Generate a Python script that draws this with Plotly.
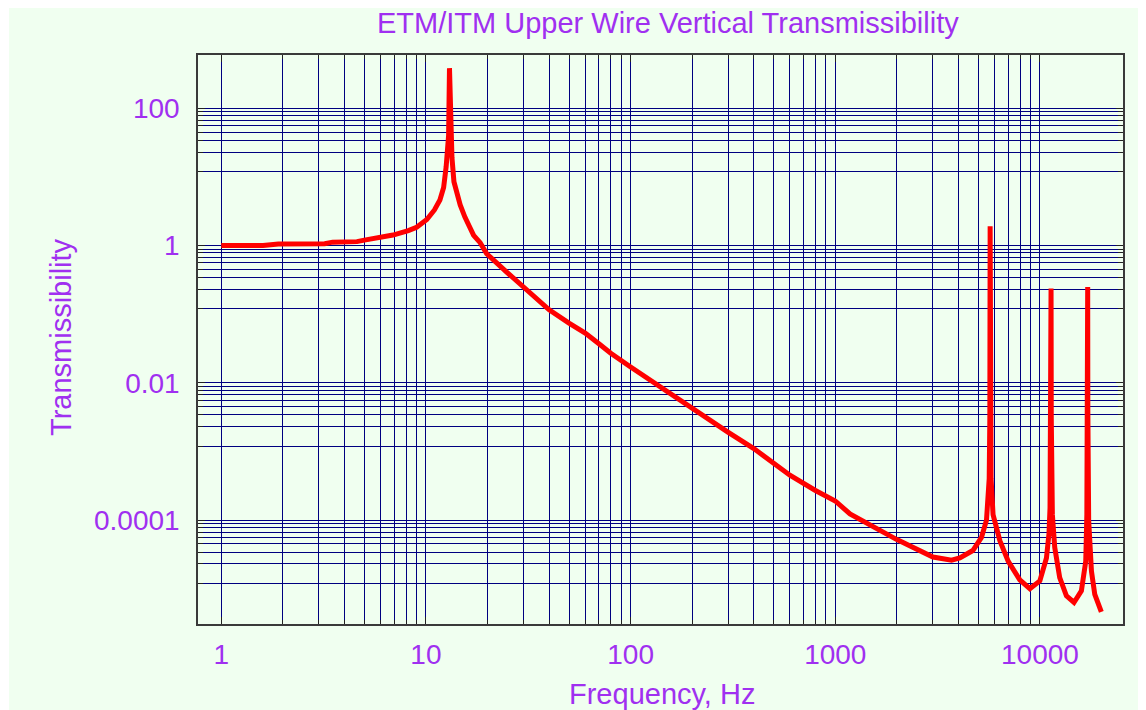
import plotly.graph_objects as go

# ---------------- data ----------------
freq_hz = [1, 1.6, 1.9, 3.2, 3.5, 4.6, 5.0, 5.8, 6.9, 8.2, 9.0, 10.1, 11.0, 11.7,
           12.2, 12.55, 12.9, 13.03, 13.2, 13.4, 13.7, 14.2, 14.7, 15.5, 17.1,
           18.4, 19.8, 24.8, 30, 40, 50, 60, 70, 80, 100, 200, 300, 400, 500,
           600, 800, 1000, 1180, 1420, 2000, 3000, 3700, 4060, 4700, 5180,
           5480, 5650, 5690, 5710, 5730, 5770, 5900, 6370, 7000, 7970, 8930,
           9990, 10760, 11070, 11200, 11300, 11330, 11360, 11500, 11810,
           12490, 13470, 14670, 15940, 16740, 16950, 17080, 17110, 17140,
           17300, 17850, 18530, 19950]
transmissibility = [1.0, 1.0, 1.05, 1.06, 1.12, 1.14, 1.2, 1.28, 1.42, 1.65,
                    1.85, 2.4, 3.3, 4.6, 7.0, 14, 40, 384, 40, 19, 8.5, 5.5,
                    3.9, 2.6, 1.41, 1.1, 0.76, 0.41, 0.25, 0.116, 0.074, 0.053,
                    0.037, 0.027, 0.017, 0.0042, 0.0019, 0.0011, 0.00069,
                    0.00045, 0.00027, 0.00019, 0.000123, 0.000092, 0.000052,
                    0.000029, 0.000026, 0.000028, 0.000036, 0.000056, 0.0001,
                    0.0004, 0.003, 1.91, 0.003, 0.0004, 0.00012, 0.00005,
                    0.000025, 0.0000135, 0.00001, 0.000013, 0.000028,
                    0.000063, 0.00015, 0.003, 0.236, 0.003, 0.00012, 0.00004,
                    0.0000145, 0.0000079, 0.0000063, 0.0000093, 0.000025,
                    0.00012, 0.004, 0.249, 0.004, 0.0001, 0.000018, 0.0000083,
                    0.0000046]

x_tick_vals = [1, 10, 100, 1000, 10000]
x_tick_text = ["1", "10", "100", "1000", "10000"]
x_minor_vals = [m * 10 ** k for k in range(4) for m in range(2, 10)]

y_tick_vals = [1e-4, 1e-2, 1, 100]
y_tick_text = ["0.0001", "0.01", "1", "100"]
y_minor_vals = [(1 + 11 * j) * 100.0 ** k for k in (-3, -2, -1, 0) for j in range(1, 9)]

title_text = "ETM/ITM Upper Wire Vertical Transmissibility"
x_title = "Frequency, Hz"
y_title = "Transmissibility"

# ---------------- style ----------------
OFF = 8                       # page body margin of the html page
W, H = 1146 - OFF, 710 - OFF
ML, MR, MT, MB = 190, 23, 47, 86
PW, PH = W - ML - MR, H - MT - MB
PURPLE = "#A030F0"
NAVY = "#000080"
BG = "#F0FFF0"
FONT = "Liberation Sans, Arial, sans-serif"


def px_x(p):
    """page pixel -> paper x"""
    return (p - OFF - ML) / PW


def px_y(p):
    """page pixel -> paper y"""
    return (H - MB - (p - OFF)) / PH


fig = go.Figure()
fig.add_trace(go.Scatter(x=freq_hz, y=transmissibility, mode="lines",
                         line=dict(color="#FF0000", width=5),
                         showlegend=False, hoverinfo="x+y"))

axis_common = dict(
    type="log", showline=True, linecolor="#3a3a3a", linewidth=1.5,
    mirror="allticks", ticks="inside", ticklen=7, tickcolor="#222222",
    tickwidth=1, showgrid=True, gridcolor=NAVY, gridwidth=1, zeroline=False,
    tickfont=dict(family=FONT, size=28, color=PURPLE), tickmode="array",
)

fig.update_xaxes(**axis_common, range=[-0.1138, 4.4058],
                 tickvals=x_tick_vals, ticktext=x_tick_text,
                 ticklabelstandoff=5,
                 minor=dict(tickmode="array", tickvals=x_minor_vals,
                            ticks="inside", ticklen=4, tickcolor="#222222",
                            showgrid=True, gridcolor=NAVY, gridwidth=1))
fig.update_yaxes(**axis_common, range=[-5.514, 2.776],
                 tickvals=y_tick_vals, ticktext=y_tick_text,
                 ticklabelstandoff=11,
                 minor=dict(tickmode="array", tickvals=y_minor_vals,
                            ticks="inside", ticklen=5, tickcolor="#222222",
                            showgrid=True, gridcolor=NAVY, gridwidth=1))

fig.add_shape(type="rect", xref="paper", yref="paper", layer="below",
              x0=px_x(9), x1=px_x(1160), y0=px_y(720), y1=px_y(5),
              fillcolor=BG, line=dict(width=0))

fig.add_annotation(text=title_text, xref="paper", yref="paper",
                   x=px_x(668), y=px_y(23), xanchor="center", yanchor="middle",
                   showarrow=False, font=dict(family=FONT, size=29, color=PURPLE))
fig.add_annotation(text=x_title, xref="paper", yref="paper",
                   x=px_x(662), y=px_y(694), xanchor="center", yanchor="middle",
                   showarrow=False, font=dict(family=FONT, size=29, color=PURPLE))
fig.add_annotation(text=y_title, xref="paper", yref="paper", textangle=-90,
                   x=px_x(61), y=px_y(337), xanchor="center", yanchor="middle",
                   showarrow=False, font=dict(family=FONT, size=29, color=PURPLE))

fig.update_layout(
    width=W, height=H, autosize=False,
    margin=dict(l=ML, r=MR, t=MT, b=MB, pad=0),
    paper_bgcolor="white", plot_bgcolor=BG,
    showlegend=False,
)

fig.write_html("out.html")
